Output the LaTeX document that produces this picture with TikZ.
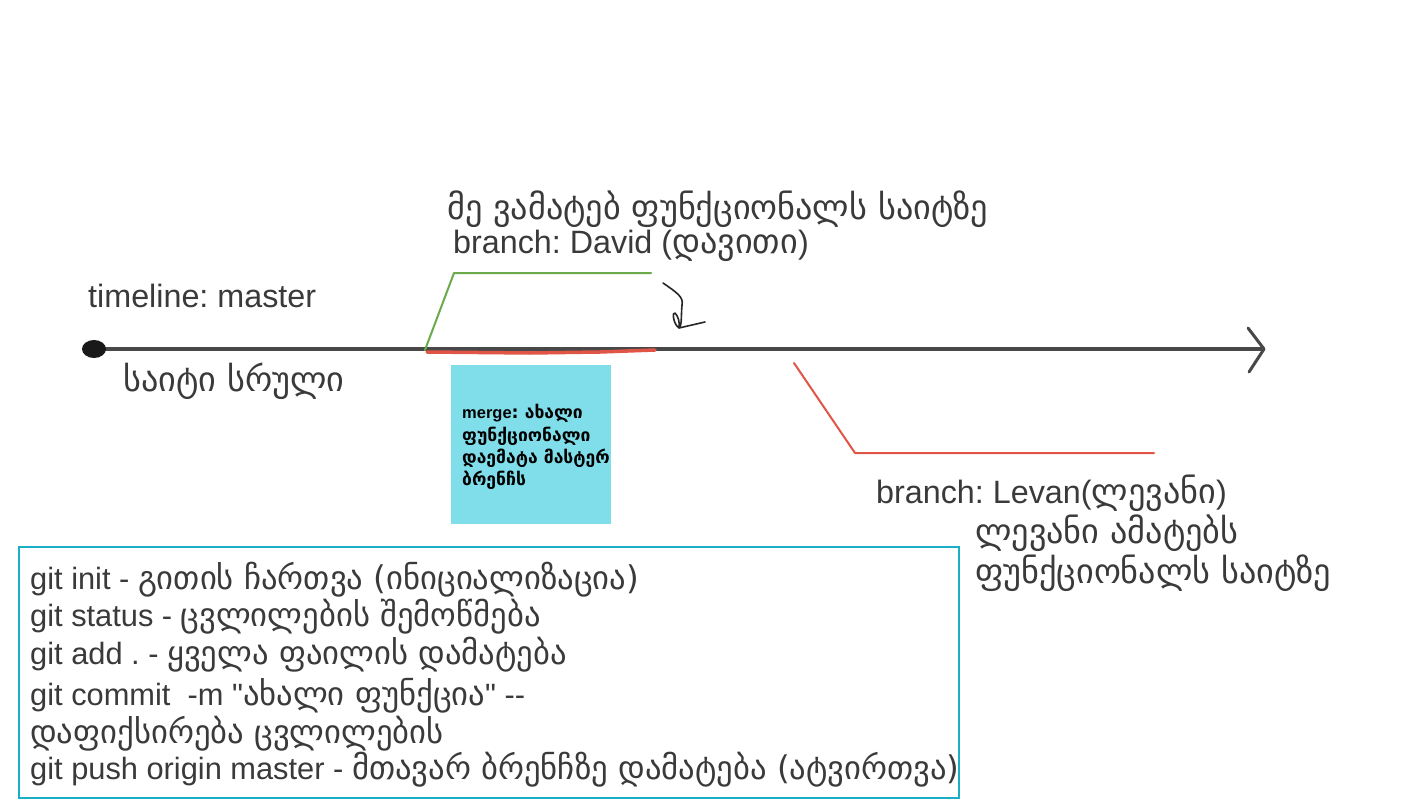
\documentclass[tikz,border=0pt]{standalone}
\usepackage{fontspec}
\setmainfont{Liberation Sans}
\newfontfamily\geofont{DejaVu Sans}[Scale=1.06]
\newcommand\ka[1]{{\geofont #1}}
\frenchspacing
\definecolor{txtgray}{HTML}{3A3A3A}
\definecolor{linegray}{HTML}{484848}
\definecolor{brgreen}{HTML}{6AAA4A}
\definecolor{brred}{HTML}{E05545}
\definecolor{cyanfill}{HTML}{80DEEA}
\definecolor{boxcyan}{HTML}{1AAFC6}
\begin{document}
\begin{tikzpicture}[x=1pt,y=-1pt,
  lbl/.style={inner sep=0pt, anchor=base west, text=txtgray, font=\frenchspacing\fontsize{32.3}{36}\selectfont},
  cmd/.style={inner sep=0pt, anchor=base west, text=txtgray, font=\frenchspacing\fontsize{30.8}{34}\selectfont},
  mrg/.style={inner sep=0pt, anchor=base west, text=black, font=\frenchspacing\bfseries\fontsize{16.5}{20}\selectfont},
  branchline/.style={line width=2pt, line cap=round, line join=round}]
\fill[white] (0,0) rectangle (1422,800);
\useasboundingbox (0,0) rectangle (1422,800);

% timeline
\coordinate (tstart) at (94,349);
\coordinate (tend) at (1264,349);
\coordinate (tup) at (1248,328);
\coordinate (tdn) at (1249,372);
\draw[line width=4pt, linegray] (tstart) -- (tend);
\draw[line width=3pt, linegray, line cap=round, line join=round] (tup) -- (tend) -- (tdn);
\fill[black!90] (tstart) ellipse [x radius=12, y radius=9];

% David branch (green)
\coordinate (g0) at (425,350);
\coordinate (g1) at (454,273);
\coordinate (g2) at (651,273);
\draw[branchline, brgreen] (g0) -- (g1) -- (g2);

% merged part (red on timeline)
\coordinate (r0) at (427,352);
\coordinate (r1) at (530,353);
\coordinate (r2) at (600,352);
\coordinate (r3) at (655,350);
\draw[line width=3.5pt, brred, line cap=round] (r0) -- (r1) -- (r2) -- (r3);

% Levan branch (red)
\coordinate (l0) at (794,363);
\coordinate (l1) at (855,453);
\coordinate (l2) at (1154,453);
\draw[branchline, brred] (l0) -- (l1) -- (l2);

% hand drawn arrow
\coordinate (a0) at (663,283);
\coordinate (a1) at (682,305);
\coordinate (a2) at (679,328);
\coordinate (a3) at (705,322);
\draw[line width=1.6pt, black!85, line cap=round, line join=round]
  (a0) .. controls (676,292) and (684,297) .. (a1)
  .. controls (681,316) and (682,326) .. (a2)
  .. controls (673,324) and (672,311) .. (675,313)
  .. controls (678,316) and (680,322) .. (a2)
  -- (a3);

% labels
\node[lbl] (tl) at (88,307) {timeline: master};
\node[lbl] (site) at (123,391) {\ka{საიტი სრული}};
\node[lbl] (dtop) at (447,219) {\ka{მე ვამატებ ფუნქციონალს საიტზე}};
\node[lbl] (dbr) at (453,253) {branch: David (\ka{დავითი})};
\node[lbl] (lbr) at (876,503) {branch: Levan(\ka{ლევანი})};
\node[lbl] (ld1) at (975,543) {\ka{ლევანი ამატებს}};
\node[lbl] (ld2) at (975,583) {\ka{ფუნქციონალს საიტზე}};

% merge box
\node[fill=cyanfill, inner sep=0pt, minimum width=160pt, minimum height=159pt, anchor=north west] (mergebox) at (451,365) {};
\node[mrg] (m1) at (462,418) {merge\ka{: ახალი}};
\node[mrg] (m2) at (462,441) {\ka{ფუნქციონალი}};
\node[mrg] (m3) at (462,463) {\ka{დაემატა მასტერ}};
\node[mrg] (m4) at (462,485) {\ka{ბრენჩს}};

% command box
\node[draw=boxcyan, line width=2pt, inner sep=0pt, minimum width=940pt, minimum height=251pt, anchor=north west] (cmdbox) at (18,546) {};
\node[cmd] (c1) at (30,589) {git init - \ka{გითის ჩართვა (ინიციალიზაცია)}};
\node[cmd] (c2) at (30,626) {git status - \ka{ცვლილების შემოწმება}};
\node[cmd] (c3) at (30,664) {git add . - \ka{ყველა ფაილის დამატება}};
\node[cmd] (c4) at (30,705) {git commit\ \ -m \textquotedbl\ka{ახალი ფუნქცია}\textquotedbl\ -{}-};
\node[cmd] (c5) at (30,743) {\ka{დაფიქსირება ცვლილების}};
\node[cmd] (c6) at (30,779) {git push origin master - \ka{მთავარ ბრენჩზე დამატება (ატვირთვა)}};
\end{tikzpicture}
\end{document}
